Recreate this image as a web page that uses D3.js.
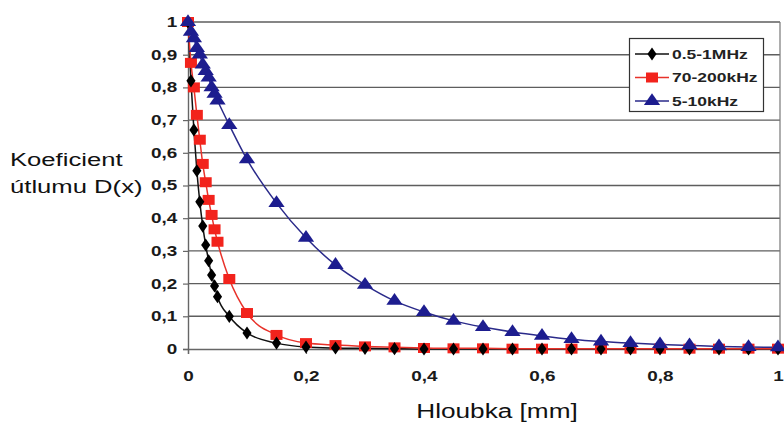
<!DOCTYPE html>
<html>
<head>
<meta charset="utf-8">
<script src="https://cdn.jsdelivr.net/npm/d3@7/dist/d3.min.js"></script>
<style>
	body { margin: 0; background: #fff; }
	svg { display: block; font-family: "Liberation Sans", Arial, sans-serif; }
	.tick text { font-weight: bold; font-size: 14px; fill: #1a1a1a; }
</style>
</head>
<body>
<svg id="chart" width="784" height="423"></svg>
<script>
// depth [mm] sample positions
var depth = [0, 0.005, 0.01, 0.015, 0.02, 0.025, 0.03, 0.035, 0.04, 0.045, 0.05, 0.07, 0.1,
	0.15, 0.2, 0.25, 0.3, 0.35, 0.4, 0.45, 0.5, 0.55, 0.6, 0.65, 0.7, 0.75, 0.8, 0.85, 0.9, 0.95, 1];

// attenuation D(x)
var mhz = [1, 0.82, 0.67, 0.545, 0.45, 0.376, 0.318, 0.27, 0.226, 0.193, 0.16, 0.1, 0.049,
	0.018, 0.006, 0.003, 0.002, 0.001, 0, 0, 0, 0, 0, 0, 0, 0, 0, 0, 0, 0, 0];
var khz200 = [1, 0.875, 0.8, 0.716, 0.64, 0.566, 0.51, 0.456, 0.41, 0.366, 0.328, 0.214, 0.11,
	0.043, 0.018, 0.012, 0.008, 0.005, 0.003, 0.002, 0.002, 0.001, 0.001, 0.001, 0.001, 0.001, 0.001, 0.001, 0.001, 0.001, 0.001];
var khz10 = [1, 0.97, 0.95, 0.92, 0.9, 0.87, 0.85, 0.83, 0.8, 0.78, 0.76, 0.685, 0.58,
	0.446, 0.34, 0.257, 0.196, 0.147, 0.113, 0.086, 0.067, 0.052, 0.04, 0.03, 0.023, 0.018, 0.014, 0.011, 0.008, 0.006, 0.005];

var seriesNames = ['0.5-1MHz', '70-200kHz', '5-10kHz'];
var xTicks = [0, 0.2, 0.4, 0.6, 0.8, 1];
var yTicks = [0, 0.1, 0.2, 0.3, 0.4, 0.5, 0.6, 0.7, 0.8, 0.9, 1];

var svg = d3.select('#chart');
var plotLeft = 188, plotRight = 780, plotTop = 22, plotBottom = 349;
var stretch = 1.35; // the original picture is widened, so are its letters and markers

var x = d3.scaleLinear().domain([0, 1]).range([plotLeft, plotLeft + 590]);
var y = d3.scaleLinear().domain([0, 1]).range([plotBottom, plotTop]);

var fmt = function(d) { return d === 0 || d === 1 ? String(d) : String(d).replace('.', ','); };

//horizontal grid lines
svg.append('g').selectAll('line').data(yTicks.slice(1)).enter().append('line')
	.attr('x1', plotLeft).attr('x2', plotRight)
	.attr('y1', function(d) { return y(d); })
	.attr('y2', function(d) { return y(d); })
	.style('stroke', '#5e5e5e').style('stroke-width', 1.4);

//right border
svg.append('line')
	.attr('x1', plotRight).attr('x2', plotRight).attr('y1', plotTop).attr('y2', plotBottom)
	.style('stroke', '#777').style('stroke-width', 1.2);

//axes
var yAxis = svg.append('g')
	.attr('transform', 'translate(' + plotLeft + ',0)')
	.call(d3.axisLeft(y).tickValues(yTicks).tickFormat(fmt).tickSize(5).tickPadding(3));
var xAxis = svg.append('g')
	.attr('transform', 'translate(0,' + plotBottom + ')')
	.call(d3.axisBottom(x).tickValues(xTicks).tickFormat(fmt).tickSize(5).tickPadding(17));
[yAxis, xAxis].forEach(function(a) {
	a.select('.domain').style('stroke', '#666').style('stroke-width', 1.4);
	a.selectAll('.tick line').style('stroke', '#666').style('stroke-width', 1.2);
	a.selectAll('.tick text').attr('transform', 'scale(' + stretch + ',1)');
});

//series
var series = [
	{name: seriesNames[0], values: mhz, color: '#111', fill: '#000', shape: d3.symbolDiamond, size: 50},
	{name: seriesNames[1], values: khz200, color: '#e8322a', fill: '#f2231c', shape: d3.symbolSquare, size: 100},
	{name: seriesNames[2], values: khz10, color: '#2a2a8a', fill: '#1d1d8f', shape: d3.symbolTriangle, size: 80}
];

var line = d3.line()
	.x(function(d) { return x(d[0]); })
	.y(function(d) { return y(d[1]); })
	.curve(d3.curveMonotoneX);

series.forEach(function(s) {
	var pts = depth.map(function(d, i) { return [d, s.values[i]]; });
	svg.append('path')
		.datum(pts)
		.attr('d', line)
		.style('fill', 'none')
		.style('stroke', s.color)
		.style('stroke-width', 1.5);
});
// markers after all lines, blue on top like the original
[1, 0, 2].forEach(function(k) {
	var s = series[k];
	var pts = depth.map(function(d, i) { return [d, s.values[i]]; });
	svg.append('g').selectAll('path').data(pts).enter().append('path')
		.attr('d', d3.symbol().type(s.shape).size(s.size))
		.attr('transform', function(d) {
			return 'translate(' + x(d[0]) + ',' + y(d[1]) + ') scale(1.2,1)';
		})
		.style('fill', s.fill);
});

//legend
var legend = svg.append('g');
legend.append('rect')
	.attr('x', 629.5).attr('y', 38.5).attr('width', 134).attr('height', 73)
	.style('fill', '#fff').style('stroke', '#333').style('stroke-width', 1.2);
series.forEach(function(s, i) {
	var ly = 54 + i * 23.5;
	legend.append('line')
		.attr('x1', 635).attr('x2', 669).attr('y1', ly).attr('y2', ly)
		.style('stroke', s.color).style('stroke-width', 1.3);
	legend.append('path')
		.attr('d', d3.symbol().type(s.shape).size(s.size))
		.attr('transform', 'translate(652,' + ly + ') scale(1.2,1)')
		.style('fill', s.fill);
	legend.append('text')
		.attr('transform', 'translate(672,' + (ly + 4.5) + ') scale(1.4,1)')
		.style('font-weight', 'bold').style('font-size', '12.5px').style('fill', '#222')
		.text(s.name);
});

//axis titles
svg.append('text').attr('transform', 'translate(10,166) scale(' + stretch + ',1)')
	.style('font-size', '19px').style('fill', '#111').text('Koeficient');
svg.append('text').attr('transform', 'translate(10,193) scale(' + stretch + ',1)')
	.style('font-size', '19px').style('fill', '#111').text('útlumu D(x)');
svg.append('text').attr('transform', 'translate(497,418) scale(1.31,1)').attr('text-anchor', 'middle')
	.style('font-size', '20px').style('fill', '#111').text('Hloubka [mm]');
</script>
</body>
</html>
